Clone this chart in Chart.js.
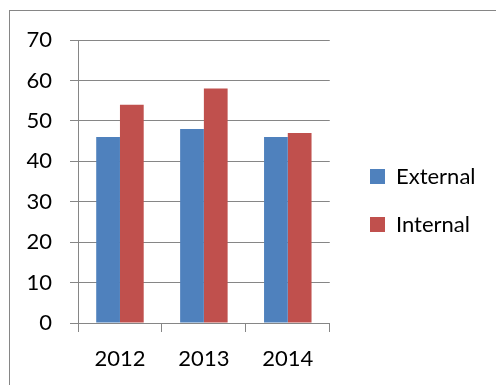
<!DOCTYPE html>
<html>
<head>
<meta charset="utf-8">
<script src="https://cdn.jsdelivr.net/npm/chart.js@4"></script>
<style>
  body { margin: 0; background: #fff; }
  #frame { position: absolute; left: 9px; top: 10px; width: 600px; height: 500px; border: 1px solid #868686; }
  #myChart { position: absolute; left: 0; top: 0; }
</style>
</head>
<body>
<div id="frame"></div>
<canvas id="myChart" width="496" height="385"></canvas>
<script>
const years = ['2012', '2013', '2014'];
const external = [46, 48, 46];
const internal = [54, 58, 47];
const yTicks = [0, 10, 20, 30, 40, 50, 60, 70];

const ctx = document.getElementById('myChart');
const gridColor = '#868686';
const font = { family: 'Lato', size: 22 };

// push the legend out to where the original has it
const moveLegend = {
  id: 'moveLegend',
  afterLayout(chart) {
    const lg = chart.legend;
    lg.left = 344;
    lg.right = 496;
    lg.width = 152;
    lg.top = 78;
    lg.bottom = 323;
  }
};

new Chart(ctx, {
  type: 'bar',
  data: {
    labels: years,
    datasets: [
      { label: 'External', data: external, backgroundColor: '#4F81BD' },
      { label: 'Internal', data: internal, backgroundColor: '#C0504D' }
    ]
  },
  options: {
    responsive: false,
    animation: false,
    devicePixelRatio: 1,
    categoryPercentage: 0.566,
    barPercentage: 1,
    layout: { padding: { left: 20, top: 40, right: 63, bottom: 0 } },
    plugins: {
      legend: {
        position: 'right',
        labels: { font: font, color: '#000', boxWidth: 15, boxHeight: 15, padding: 26 }
      },
      tooltip: { enabled: false }
    },
    scales: {
      x: {
        grid: { display: true, drawOnChartArea: false, drawTicks: true, tickLength: 9, color: gridColor, offset: true },
        border: { color: gridColor },
        ticks: { font: font, color: '#000', padding: 14, maxRotation: 0 },
        afterFit: (s) => { s.height = 62; }
      },
      y: {
        min: yTicks[0],
        max: yTicks[yTicks.length - 1],
        grid: { color: gridColor, tickLength: 8 },
        border: { color: gridColor },
        ticks: { font: font, color: '#000', stepSize: 10, padding: 18 },
        afterFit: (s) => { s.width = 58; }
      }
    }
  },
  plugins: [moveLegend]
});
</script>
</body>
</html>
